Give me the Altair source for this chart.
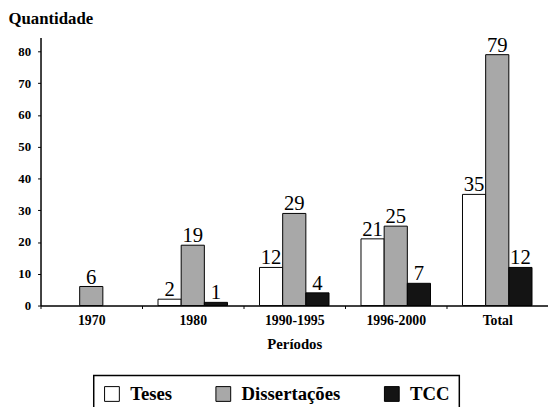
import altair as alt
import pandas as pd

periodos = ["1970", "1980", "1990-1995", "1996-2000", "Total"]
series = ["Teses", "Dissertações", "TCC"]
teses = [0, 2, 12, 21, 35]
dissertacoes = [6, 19, 29, 25, 79]
tcc = [0, 1, 4, 7, 12]
colors = ["#ffffff", "#a8a8a8", "#141414"]

rows = []
for i, p in enumerate(periodos):
    for s, vals in zip(series, [teses, dissertacoes, tcc]):
        if vals[i] > 0:
            rows.append({"Período": p, "Tipo": s, "Quantidade": vals[i]})
df = pd.DataFrame(rows)

FONT = "Liberation Serif"

x = alt.X("Período:N", sort=periodos, title="Períodos",
          scale=alt.Scale(paddingInner=0, paddingOuter=0),
          axis=alt.Axis(labelAngle=0, labelFont=FONT, labelFontWeight="bold",
                        labelFontSize=14, labelColor="black", labelPadding=5,
                        titleFont=FONT, titleFontWeight="bold", titleFontSize=15,
                        titleColor="black", titlePadding=10,
                        domainColor="black", domainWidth=1.5,
                        tickColor="black", tickSize=3, tickBand="extent"))
xoff = alt.XOffset("Tipo:N", sort=series,
                   scale=alt.Scale(paddingOuter=0.69, paddingInner=0))

y = alt.Y("Quantidade:Q", title="Quantidade",
          scale=alt.Scale(domain=[0, 84.4], nice=False),
          axis=alt.Axis(values=[0, 10, 20, 30, 40, 50, 60, 70, 80], grid=False,
                        labelOverlap=False,
                        labelFont=FONT, labelFontWeight="bold", labelFontSize=13,
                        labelColor="black", labelPadding=7,
                        domainColor="black", domainWidth=1.5,
                        tickColor="black", tickSize=3,
                        titleAngle=0, titleAlign="left", titleBaseline="bottom",
                        titleX=-33, titleY=-10, titleFont=FONT,
                        titleFontWeight="bold", titleFontSize=17, titleColor="black"))

base = alt.Chart(df).encode(x=x, xOffset=xoff, y=y)

bars = base.mark_bar(stroke="black", strokeWidth=1).encode(
    fill=alt.Fill("Tipo:N", sort=series,
                  scale=alt.Scale(domain=series, range=colors),
                  legend=alt.Legend(title=None, orient="none", direction="horizontal",
                                    legendX=54, legendY=343,
                                    symbolType="square", symbolSize=225,
                                    symbolStrokeColor="black", symbolStrokeWidth=1,
                                    labelFont=FONT, labelFontWeight="bold",
                                    labelFontSize=19, labelColor="black",
                                    labelOffset=9, columnPadding=42,
                                    strokeColor="black", padding=9)),
)

labels = base.mark_text(baseline="bottom", dy=1, font=FONT, fontSize=21,
                        color="black").encode(
    text=alt.Text("Quantidade:Q"),
)

chart = (bars + labels).properties(
    width=515, height=272,
    autosize=alt.AutoSizeParams(type="none"),
    padding={"left": 33, "top": 27, "right": 0, "bottom": 100},
).configure_view(stroke=None).configure_legend(strokeWidth=1.5)

chart.save("out.html", embed_options={"renderer": "svg", "actions": False})
